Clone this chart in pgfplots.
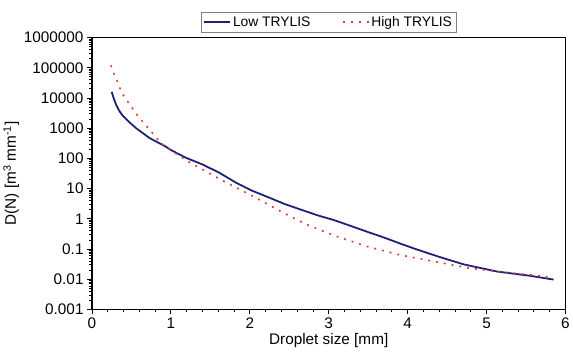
\documentclass[border=0pt]{standalone}
\usepackage{pgfplots}
\pgfplotsset{compat=1.18}
\usepackage{fontspec}
\setmainfont{Liberation Sans}
\definecolor{lowc}{HTML}{1F1F78}
\definecolor{highc}{HTML}{D8403A}
\begin{document}
\begin{tikzpicture}
\begin{axis}[
  scale only axis,
  width=479bp, height=275bp,
  xmin=0, xmax=6, ymode=log, ymin=0.001, ymax=1000000,
  xtick={0,1,2,3,4,5,6},
  minor x tick num=4,
  ytick={0.001,0.01,0.1,1,10,100,1000,10000,100000,1000000},
  yticklabels={0.001,0.01,0.1,1,10,100,1000,10000,100000,1000000},
  /pgf/number format/assume math mode=true,
  tick align=outside, xtick pos=left, ytick pos=left,
  major tick length=5bp, minor tick length=3bp,
  every tick/.style={black, line width=0.8bp},
  axis line style={line width=1.4bp},
  ticklabel style={font=\fontsize{15.5bp}{18bp}\selectfont},
  label style={font=\fontsize{15.5bp}{18bp}\selectfont},
  xlabel={Droplet size [mm]},
  ylabel={D(N) [m\textsuperscript{3} mm\textsuperscript{-1}]},
  xlabel style={yshift=2bp},
  ylabel style={yshift=-2bp},
  legend columns=2,
  legend style={at={(0.5,1)}, anchor=south, yshift=5bp, draw=gray, line width=0.6bp,
    font=\fontsize{14bp}{16bp}\selectfont, inner sep=2.5bp,
    /tikz/every even column/.append style={column sep=30bp}},
  legend image code/.code={\draw[#1] (0bp,0bp) -- (26bp,0bp);},
]
\addplot[lowc, line width=1.8bp] coordinates {
(0.25,16000) (0.28,9000) (0.31,5700) (0.35,3600) (0.39,2600) (0.47,1600) (0.56,1000)
(0.73,470) (0.93,250) (1.0,190)
(1.19,105) (1.40,63) (1.61,34) (1.82,16) (2.03,8.5) (2.24,5.1) (2.44,3.1) (2.65,2.0)
(2.86,1.3) (3.07,0.9) (3.28,0.58) (3.49,0.37) (3.70,0.24) (3.91,0.15) (4.1,0.10)
(4.39,0.056) (4.71,0.031) (5.13,0.018) (5.55,0.013) (5.85,0.0097)
};
\addlegendentry{Low TRYLIS}
\addplot[highc, line width=1.6bp, dash pattern=on 2bp off 6bp] coordinates {
(0.24,120000) (0.285,57000) (0.33,32000) (0.37,16000) (0.43,9300) (0.49,5500) (0.56,3000)
(0.63,1800) (0.70,1100) (0.78,630) (0.85,380) (0.92,260) (1.02,170) (1.12,117) (1.23,76)
(1.42,40) (1.63,20) (1.82,11) (2.03,5.8) (2.21,3.2) (2.42,1.6) (2.72,0.65) (3.07,0.28)
(3.49,0.12) (3.91,0.063) (4.35,0.038) (4.79,0.023) (5.13,0.018) (5.55,0.014) (5.81,0.0117)
};
\addlegendentry{High TRYLIS}
\end{axis}
\path ([xshift=-89bp,yshift=-49bp]current axis.south west) rectangle ([xshift=484bp,yshift=313bp]current axis.south west);
\end{tikzpicture}
\end{document}
